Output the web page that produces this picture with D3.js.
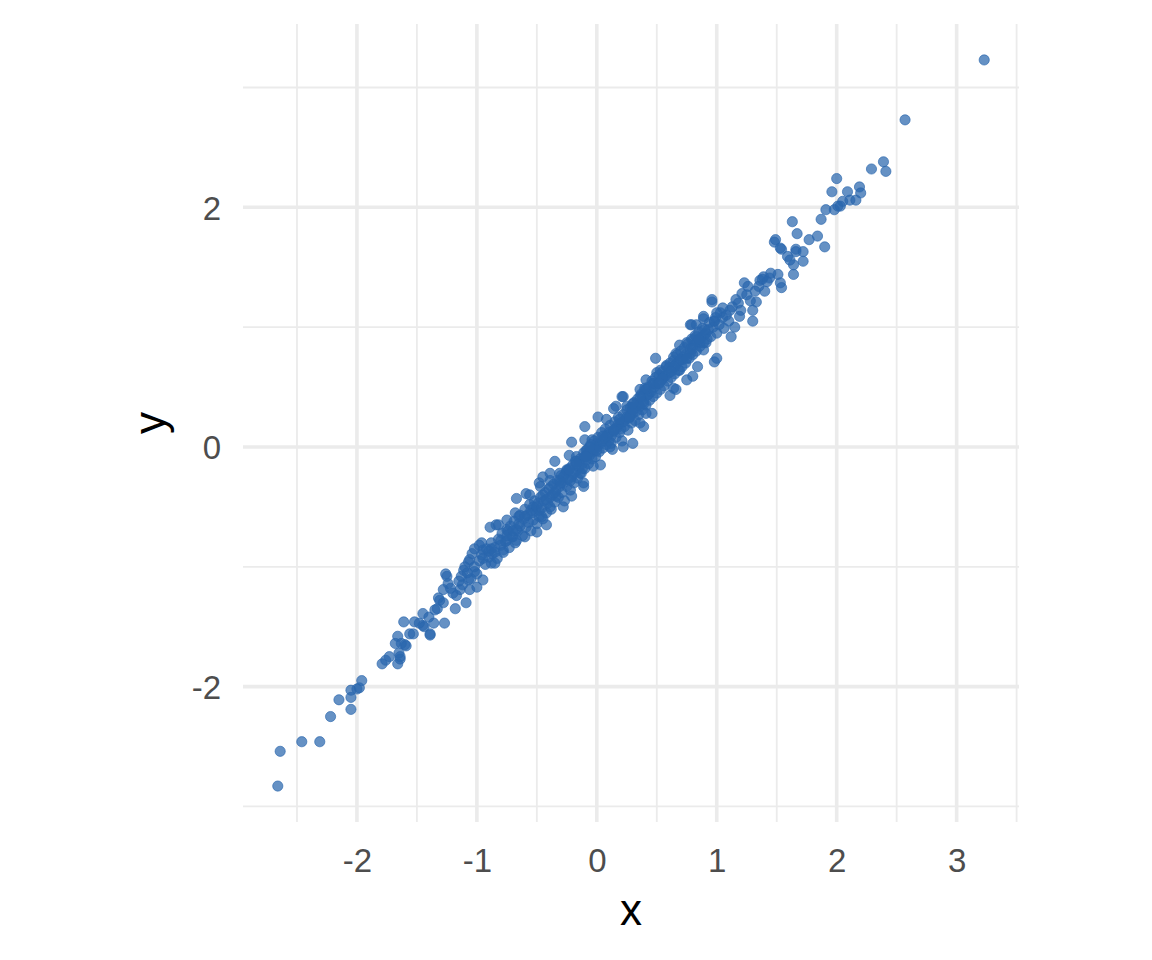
<!DOCTYPE html>
<html>
<head>
<meta charset="utf-8">
<script src="https://cdn.jsdelivr.net/npm/d3@7"></script>
<style>
  html, body { margin: 0; padding: 0; background: #ffffff; }
  svg { display: block; }
</style>
</head>
<body>
<svg id="chart" width="1152" height="960"></svg>
<script>
// ---------------- data ----------------
const xMajorTicks = [-2, -1, 0, 1, 2, 3];
const xMinorTicks = [-2.5, -1.5, -0.5, 0.5, 1.5, 2.5, 3.5];
const yMajorTicks = [-2, 0, 2];
const yMinorTicks = [-3, -1, 1, 3];
const xTitle = "x";
const yTitle = "y";

const lowerTail = [
  [-2.64,-2.54],[-2.66,-2.83],[-2.46,-2.46],[-2.31,-2.46],[-2.22,-2.25],[-2.15,-2.11],
  [-2.05,-2.19],[-2.05,-2.09],[-2.05,-2.03],[-2.00,-2.02],[-1.98,-2.01],[-1.96,-1.95]
];

const lowerBand = [
  [-1.79,-1.81],[-1.76,-1.78],[-1.73,-1.75],[-1.66,-1.81],[-1.64,-1.77],[-1.65,-1.72],
  [-1.68,-1.64],[-1.66,-1.58],[-1.60,-1.65],[-1.63,-1.64],[-1.56,-1.56],[-1.53,-1.56],
  [-1.61,-1.46],[-1.52,-1.46],[-1.45,-1.49],[-1.39,-1.56],[-1.36,-1.47],[-1.64,-1.75],
  [-1.59,-1.66],[-1.45,-1.39],[-1.39,-1.57],[-1.35,-1.36],[-1.27,-1.47],[-1.31,-1.28],
  [-1.32,-1.26],[-1.28,-1.19],[-1.25,-1.08],[-1.26,-1.06],[-1.24,-1.14],[-1.18,-1.35],
  [-1.17,-1.24],[-1.14,-1.19],[-1.09,-1.30],[-1.13,-1.08],[-1.11,-1.03],[-1.07,-1.11],
  [-1.06,-1.19],[-1.00,-1.17],[-1.02,-1.04],[-0.95,-1.11],[-1.06,-0.94],[-1.04,-0.89],
  [-1.02,-0.85],[-0.98,-0.82],[-0.95,-0.86],[-0.88,-0.97],[-0.85,-0.97],[-0.88,-0.85],
  [-0.89,-0.67],[-0.84,-0.65],[-0.78,-0.86],[-0.75,-0.61],[-0.75,-0.69],[-0.71,-0.75],
  [-0.68,-0.55],[-0.67,-0.69],[-0.82,-0.65],[-0.96,-0.80],[-1.07,-0.96],
  [-1.02,-1.00],[-1.05,-1.10],[-1.08,-1.05],[-1.12,-1.15],[-1.15,-1.12],[-1.20,-1.22],
  [-1.22,-1.18],[-1.28,-1.30],[-1.33,-1.35],[-1.40,-1.42],[-1.44,-1.50],[-1.48,-1.47],
  [-1.10,-1.00],[-1.00,-1.06]
];

const core = [
  [-0.67,-0.78],[-0.60,-0.75],[-0.50,-0.71],[-0.42,-0.65],[-0.46,-0.58],[-0.67,-0.43],
  [-0.59,-0.39],[-0.56,-0.40],[-0.64,-0.57],[-0.53,-0.50],[-0.48,-0.53],[-0.39,-0.50],
  [-0.28,-0.50],[-0.21,-0.41],[-0.34,-0.41],[-0.48,-0.30],[-0.45,-0.25],[-0.39,-0.22],
  [-0.35,-0.12],[-0.31,-0.28],[-0.25,-0.19],[-0.23,-0.07],[-0.21,0.04],[-0.17,-0.12],
  [-0.11,-0.30],[-0.11,-0.33],[-0.09,-0.03],[-0.14,-0.22],[-0.03,-0.16],[0.00,0.03],
  [-0.04,0.06],[-0.75,-0.78],
  [-0.98,-0.95],[-0.96,-0.90],[-0.93,-0.98],[-0.92,-0.85],[-0.90,-0.92],[-0.88,-0.80],
  [-0.87,-0.89],[-0.85,-0.84],[-0.83,-0.93],[-0.82,-0.77],[-0.80,-0.82],[-0.79,-0.72],
  [-0.78,-0.88],[-0.76,-0.79],[-0.74,-0.70],[-0.73,-0.84],[-0.72,-0.66],[-0.70,-0.75],
  [-0.69,-0.62],[-0.68,-0.80],[-0.66,-0.70],[-0.65,-0.58],[-0.64,-0.66],[-0.62,-0.74],
  [-0.61,-0.60],[-0.60,-0.52],[-0.59,-0.67],[-0.58,-0.57],[-0.57,-0.63],[-0.56,-0.48],
  [-0.55,-0.70],[-0.54,-0.55],[-0.53,-0.61],[-0.52,-0.45],[-0.51,-0.53],[-0.50,-0.64],
  [-0.49,-0.47],[-0.48,-0.58],
  [-0.95,-0.93],[-0.90,-0.87],[-0.85,-0.88],[-0.80,-0.78],[-0.75,-0.74],[-0.70,-0.70],
  [-0.65,-0.64],[-0.60,-0.58],[-0.55,-0.53],[-0.50,-0.50],
  [-0.47,-0.42],[-0.46,-0.51],[-0.45,-0.60],[-0.44,-0.45],[-0.43,-0.38],[-0.42,-0.55],
  [-0.41,-0.47],[-0.40,-0.35],[-0.39,-0.42],[-0.38,-0.52],[-0.37,-0.40],[-0.36,-0.31],
  [-0.35,-0.46],[-0.34,-0.36],[-0.33,-0.28],[-0.32,-0.42],[-0.31,-0.33],[-0.30,-0.24],
  [-0.29,-0.38],[-0.28,-0.30],[-0.27,-0.45],[-0.26,-0.22],[-0.25,-0.33],[-0.24,-0.27],
  [-0.23,-0.18],[-0.22,-0.36],[-0.21,-0.25],[-0.20,-0.15],[-0.19,-0.30],[-0.18,-0.21],
  [-0.17,-0.08],[-0.16,-0.26],[-0.15,-0.17],[-0.14,-0.10],[-0.13,-0.22],[-0.12,-0.14],
  [-0.11,-0.05],[-0.10,-0.18],[-0.09,-0.11],[-0.08,-0.02],[-0.07,-0.14],[-0.06,-0.07],
  [-0.05,0.02],[-0.04,-0.10],[-0.03,-0.04],[-0.02,0.05],[-0.01,-0.08],[0.00,0.00],
  [-0.45,-0.40],[-0.38,-0.33],[-0.30,-0.30],[-0.25,-0.20],[-0.20,-0.22],[-0.15,-0.12],
  [-0.10,-0.08],[-0.05,-0.03],[-0.42,-0.44],[-0.35,-0.38],[-0.28,-0.25],[-0.22,-0.28],
  [-0.18,-0.12],[-0.12,-0.18],[-0.08,-0.06],[-0.02,-0.01],
  [0.01,0.08],[0.02,-0.04],[0.03,0.03],[0.04,0.12],[0.05,-0.01],[0.06,0.07],
  [0.07,0.15],[0.08,0.02],[0.09,0.10],[0.10,0.05],[0.11,0.18],[0.12,0.09],
  [0.13,-0.02],[0.14,0.13],[0.15,0.21],[0.16,0.08],[0.17,0.16],[0.18,0.25],
  [0.19,0.12],[0.20,0.20],[0.21,0.05],[0.22,0.27],[0.23,0.17],[0.24,0.23],
  [0.25,0.31],[0.26,0.14],[0.27,0.24],[0.28,0.33],[0.29,0.20],[0.30,0.28],
  [0.31,0.37],[0.32,0.22],[0.33,0.30],[0.34,0.40],[0.35,0.27],[0.36,0.34],
  [0.37,0.44],[0.38,0.31],[0.39,0.38],[0.40,0.47],[0.41,0.35],[0.42,0.43],
  [0.43,0.50],[0.44,0.39],[0.45,0.46],[0.46,0.55],[0.47,0.42],[0.48,0.50],[0.49,0.58],
  [0.05,0.05],[0.10,0.12],[0.15,0.15],[0.20,0.15],[0.25,0.25],[0.30,0.33],
  [0.35,0.35],[0.12,0.03],[0.18,0.19],[0.22,0.21],[0.28,0.27],[0.33,0.36],
  [0.38,0.42],[0.43,0.44],[0.08,0.09],
  [0.22,0.42],[0.16,0.34],[0.25,0.34],[0.01,0.25],[0.08,0.23],[-0.10,0.17],
  [-0.10,0.06],[0.30,0.03],[0.22,0.00],[0.03,-0.15],[0.36,0.20],[0.39,0.17],
  [0.46,0.28],[0.41,0.48],[0.47,0.53],[0.50,0.62],[0.36,0.48],
  [0.05,0.09],[0.14,0.14],[0.19,0.23],[0.27,0.25],[0.11,0.00],[0.00,-0.03],
  [-0.06,0.00],[-0.09,-0.08],[-0.17,-0.14],[-0.23,-0.19],[-0.31,-0.22],[-0.39,-0.28],
  [-0.47,-0.33],[0.30,0.31],[0.39,0.36],[0.41,0.28]
];

const upperBand = [
  [0.49,0.74],[0.21,0.42],[0.14,0.32],[0.40,0.49],[0.64,0.49],[0.66,0.48],
  [0.61,0.43],[0.53,0.64],[0.55,0.59],[0.69,0.85],[0.75,0.87],[0.78,1.02],
  [0.83,1.02],[0.89,1.09],[0.96,1.21],[0.98,0.71],[0.84,0.67],[0.80,0.59],
  [0.75,0.56],[0.69,0.64],[0.64,0.75],[0.66,0.78],[0.89,0.81],[0.91,0.95],
  [0.91,0.87],[0.83,0.92],[0.98,1.05],[1.00,0.95],
  [0.41,0.56],[0.47,0.53],[0.36,0.42],[0.30,0.36],[0.58,0.67],[0.72,0.73],
  [0.78,0.78],[0.80,0.89],[0.86,0.87],
  [0.50,0.45],[0.51,0.53],[0.52,0.60],[0.53,0.48],[0.54,0.56],[0.55,0.63],
  [0.56,0.51],[0.57,0.59],[0.58,0.68],[0.59,0.55],[0.60,0.62],[0.61,0.70],
  [0.62,0.58],[0.63,0.66],[0.64,0.72],[0.65,0.61],[0.66,0.69],[0.67,0.77],
  [0.68,0.64],[0.69,0.72],[0.70,0.80],[0.71,0.67],[0.72,0.75],[0.73,0.83],
  [0.74,0.70],[0.75,0.78],[0.76,0.86],[0.77,0.74],[0.78,0.82],[0.79,0.90],
  [0.80,0.77],[0.81,0.85],[0.82,0.93],[0.83,0.80],[0.84,0.88],[0.85,0.96],
  [0.86,0.84],[0.87,0.91],[0.88,0.99],[0.89,0.87],[0.90,0.94],[0.92,0.90],
  [0.93,0.98],[0.94,1.04],[0.95,0.92],[0.97,1.00],[0.99,1.08],
  [0.55,0.57],[0.60,0.66],[0.65,0.67],[0.70,0.73],[0.75,0.74],[0.80,0.82],
  [0.85,0.90],[0.90,0.98],[0.52,0.53],[0.62,0.63],
  [0.96,1.23],[0.89,1.07],[0.79,1.02],[0.98,1.05],[1.12,0.92],[1.15,1.00],
  [1.05,1.16],[1.11,1.14],[1.03,1.12],[1.16,1.23],[1.21,1.28],[1.23,1.37],
  [1.26,1.34],[1.33,1.21],[1.30,1.14],[1.30,1.05],[1.36,1.39],[1.39,1.42],
  [1.44,1.41],[1.40,1.30],[1.51,1.44],[1.53,1.37],[1.54,1.33],[1.48,1.71],
  [1.53,1.66],[1.59,1.59],[1.64,1.52],[1.64,1.44],[1.66,1.65],[1.19,1.09],
  [1.00,0.74],
  [1.02,1.02],[1.05,1.08],[1.08,1.10],[1.10,1.05],[1.13,1.17],[1.18,1.20],
  [1.20,1.14],[1.25,1.27],[1.28,1.22],[1.32,1.30],[1.35,1.34],[1.38,1.40],
  [1.42,1.38],[1.45,1.45],[1.00,1.12],[1.06,0.99]
];

const upperTail = [
  [1.63,1.88],[1.67,1.78],[1.49,1.73],[1.54,1.65],[1.66,1.63],[1.72,1.63],
  [1.77,1.73],[1.84,1.76],[1.90,1.67],[1.61,1.56],[1.72,1.55],[1.87,1.90],
  [1.91,1.98],[1.98,1.98],[2.01,2.01],[1.96,2.13],[2.09,2.13],[2.11,2.06],
  [2.16,2.06],[2.00,2.24],[2.19,2.17],[2.20,2.12],[2.05,2.05],[2.03,2.01],
  [2.29,2.32],[2.39,2.38],[2.41,2.30],[2.57,2.73],[3.23,3.23]
];

const points = [].concat(lowerTail, lowerBand, core, upperBand, upperTail)
  .map(([x, y]) => ({ x, y }));

// ---------------- chart ----------------
const svg = d3.select("#chart");
const panel = { left: 243, right: 1019, top: 24, bottom: 822 };

const x = d3.scaleLinear().domain([-2.95, 3.52]).range([panel.left, panel.right]);
const y = d3.scaleLinear().domain([-3.13, 3.53]).range([panel.bottom, panel.top]);

const grid = svg.append("g").attr("class", "grid");
const gridColor = "#ebebeb";

grid.selectAll("line.vminor").data(xMinorTicks).join("line")
  .attr("x1", d => x(d)).attr("x2", d => x(d))
  .attr("y1", panel.top).attr("y2", panel.bottom)
  .attr("stroke", gridColor).attr("stroke-width", 1.8);
grid.selectAll("line.hminor").data(yMinorTicks).join("line")
  .attr("y1", d => y(d)).attr("y2", d => y(d))
  .attr("x1", panel.left).attr("x2", panel.right)
  .attr("stroke", gridColor).attr("stroke-width", 1.8);
grid.selectAll("line.vmajor").data(xMajorTicks).join("line")
  .attr("x1", d => x(d)).attr("x2", d => x(d))
  .attr("y1", panel.top).attr("y2", panel.bottom)
  .attr("stroke", gridColor).attr("stroke-width", 3.6);
grid.selectAll("line.hmajor").data(yMajorTicks).join("line")
  .attr("y1", d => y(d)).attr("y2", d => y(d))
  .attr("x1", panel.left).attr("x2", panel.right)
  .attr("stroke", gridColor).attr("stroke-width", 3.6);

// points
svg.append("g").attr("class", "points")
  .selectAll("circle").data(points).join("circle")
  .attr("cx", d => x(d.x))
  .attr("cy", d => y(d.y))
  .attr("r", 5.1)
  .attr("fill", "#2a66ad")
  .attr("fill-opacity", 0.72)
  .attr("stroke", "#2a66ad")
  .attr("stroke-opacity", 0.72)
  .attr("stroke-width", 0.9);

// axes (text only, theme_minimal)
const font = "'Liberation Sans', Arial, Helvetica, sans-serif";
const fmt = d => String(d);
const xAxis = d3.axisBottom(x).tickValues(xMajorTicks).tickSize(0).tickPadding(0)
  .tickFormat(fmt);
const gx = svg.append("g").attr("transform", `translate(0, 860)`).call(xAxis);
gx.select(".domain").remove();
gx.selectAll("text").attr("dy", "0.36em").attr("y", 0)
  .attr("font-family", font).attr("font-size", 33).attr("fill", "#4d4d4d");

const yAxis = d3.axisLeft(y).tickValues(yMajorTicks).tickSize(0).tickPadding(0)
  .tickFormat(fmt);
const gy = svg.append("g").attr("transform", `translate(221, 0)`).call(yAxis);
gy.select(".domain").remove();
gy.selectAll("text").attr("x", 0).attr("dy", "0.36em")
  .attr("font-family", font).attr("font-size", 33).attr("fill", "#4d4d4d");

// axis titles
svg.append("text")
  .attr("x", (panel.left + panel.right) / 2)
  .attr("y", 925)
  .attr("text-anchor", "middle")
  .attr("font-family", font).attr("font-size", 44).attr("fill", "#000000")
  .text(xTitle);

svg.append("text")
  .attr("transform", `translate(165, ${(panel.top + panel.bottom) / 2}) rotate(-90)`)
  .attr("text-anchor", "middle")
  .attr("font-family", font).attr("font-size", 44).attr("fill", "#000000")
  .text(yTitle);
</script>
</body>
</html>
